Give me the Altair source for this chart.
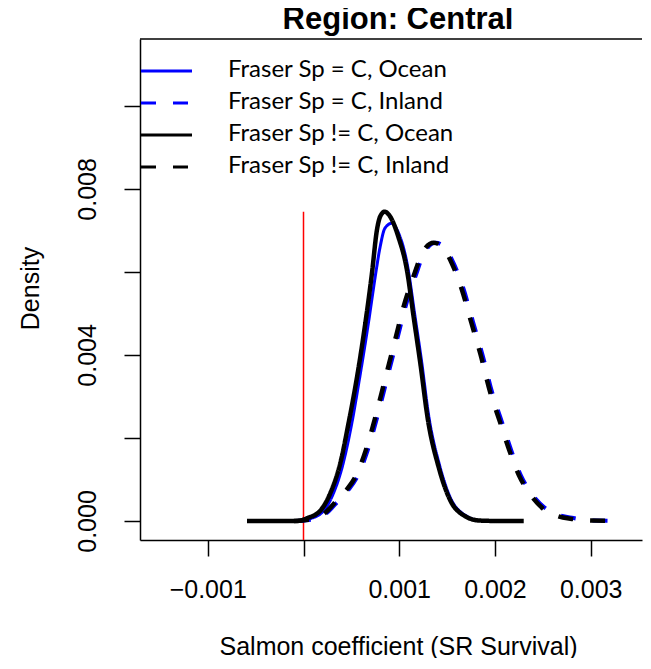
import altair as alt
import pandas as pd

labels = ["Fraser Sp = C, Ocean", "Fraser Sp = C, Inland",
          "Fraser Sp != C, Ocean", "Fraser Sp != C, Inland"]
colors = ["#0000ff", "#0000ff", "#000000", "#000000"]
dashes = [[1, 0], [15, 17], [1, 0], [15, 17]]
title_text = ["Region: Central"]

# Fraser Sp = C, Ocean (blue solid)
c_ocean_x = [-0.00058, -0.0003, -0.00005, 0.00006, 0.0002, 0.0003, 0.00041, 0.0005, 0.00059,
             0.00068, 0.00075, 0.0008, 0.00085, 0.00092, 0.00099, 0.00109, 0.00116, 0.00123,
             0.00131, 0.00142, 0.00154, 0.00168, 0.00185, 0.00205, 0.00225]
c_ocean_y = [0, 0, 0, 0.00005, 0.00022, 0.0006, 0.00135, 0.0023, 0.0035, 0.0048, 0.0059, 0.0066,
             0.00705, 0.00717, 0.00695, 0.0061, 0.005, 0.0039, 0.0025, 0.00135, 0.00053, 0.00015,
             0.00001, 0, 0]

# Fraser Sp = C, Inland (blue dashed)
c_inland_x = [-0.00008, 0.00012, 0.00022, 0.00037, 0.00047, 0.00057, 0.00067, 0.00077, 0.00087,
              0.00097, 0.00107, 0.00117, 0.00127, 0.00138, 0.00147, 0.00157, 0.00167, 0.00177,
              0.00187, 0.00197, 0.00207, 0.00217, 0.00227, 0.00237, 0.00252, 0.00267, 0.00282,
              0.00302, 0.00332]
c_inland_y = [0, 0.00005, 0.00015, 0.0005, 0.00075, 0.0011, 0.0017, 0.0025, 0.0034, 0.0043,
              0.0052, 0.0059, 0.0065, 0.0067, 0.0066, 0.0062, 0.0056, 0.0048, 0.004, 0.0031,
              0.0024, 0.0017, 0.0011, 0.0007, 0.00032, 0.00014, 0.00007, 0.00001, 0]

# Fraser Sp != C, Ocean (black solid)
nc_ocean_x = [-0.00059, -0.0003, -0.00007, 0.00004, 0.00018, 0.00028, 0.000385, 0.00047, 0.00056,
              0.000646, 0.000715, 0.000767, 0.0008, 0.000847, 0.000906, 0.00099, 0.00108, 0.00115,
              0.00122, 0.0013, 0.00141, 0.00153, 0.00167, 0.00184, 0.00205, 0.0023]
nc_ocean_y = [0, 0, 0, 0.00007, 0.00026, 0.00067, 0.0014, 0.00235, 0.00348, 0.00477, 0.00597,
              0.00701, 0.00733, 0.00745, 0.00733, 0.00685, 0.00605, 0.00492, 0.0038, 0.00243,
              0.00131, 0.00051, 0.00014, 0.00001, 0, 0]

# Fraser Sp != C, Inland (black dashed)
nc_inland_x = [-0.0001, 0.0001, 0.0002, 0.00035, 0.00045, 0.00055, 0.00065, 0.00075, 0.00085,
               0.00095, 0.00105, 0.00115, 0.00125, 0.00136, 0.00145, 0.00155, 0.00165, 0.00175,
               0.00185, 0.00195, 0.00205, 0.00215, 0.00225, 0.00235, 0.0025, 0.00265, 0.0028,
               0.003, 0.00332]
nc_inland_y = [0, 0.00005, 0.00015, 0.0005, 0.00075, 0.0011, 0.0017, 0.0025, 0.0034, 0.0043,
               0.0052, 0.0059, 0.0065, 0.0067, 0.0066, 0.0062, 0.0056, 0.0048, 0.004, 0.0031,
               0.0024, 0.0017, 0.0011, 0.0007, 0.0003, 0.00012, 0.00005, 0.00001, 0]

x_ticks = [-0.001, 0, 0.001, 0.002, 0.003]
y_ticks = [0, 0.002, 0.004, 0.006, 0.008, 0.010]
ref_x = [0.0]
ref_top = [0.00745]

series = [(labels[0], c_ocean_x, c_ocean_y, 3),
          (labels[1], c_inland_x, c_inland_y, 4),
          (labels[2], nc_ocean_x, nc_ocean_y, 4.5),
          (labels[3], nc_inland_x, nc_inland_y, 4.5)]

W, H = 502, 501
xdom = [-0.0017076, 0.0035353]
ydom = [-0.000458, 0.01161]

xscale = alt.Scale(domain=xdom, nice=False, zero=False)
yscale = alt.Scale(domain=ydom, nice=False, zero=False)
cscale = alt.Scale(domain=labels, range=colors)
dscale = alt.Scale(domain=labels, range=dashes)

xaxis = alt.Axis(orient="bottom", values=x_ticks,
                 labelExpr="datum.value == 0 ? '' : format(datum.value, '.3f')",
                 title="Salmon coefficient (SR Survival)", grid=False,
                 tickSize=16, labelPadding=41, labelBaseline="alphabetic",
                 titleX=258, titleY=114, titleBaseline="alphabetic", titleAnchor="middle",
                 titleAlign="center")
yaxis = alt.Axis(orient="left", values=y_ticks,
                 labelExpr="(datum.value == 0 || abs(datum.value - 0.004) < 1e-9 || abs(datum.value - 0.008) < 1e-9) ? format(datum.value, '.3f') : ''",
                 title="Density", grid=False, tickSize=16, labelAngle=-90, labelAlign="center",
                 labelBaseline="alphabetic", labelPadding=29,
                 titleAngle=-90, titleX=-102, titleY=249, titleBaseline="alphabetic",
                 titleAlign="center")

ref = alt.Chart(pd.DataFrame({"x": ref_x, "y": ref_top})).mark_rule(
    color="#ff0000", strokeWidth=1.5).encode(
    x=alt.X("x:Q", scale=xscale, axis=xaxis),
    y=alt.Y("y:Q", scale=yscale, axis=yaxis),
    y2=alt.value(H))

layers = []
for lab, xs, ys, sw in series:
    df = pd.DataFrame({"x": xs, "y": ys, "series": lab, "o": range(len(xs))})
    layers.append(alt.Chart(df).mark_line(strokeWidth=sw, interpolate="monotone",
                                          strokeCap="butt").encode(
        x=alt.X("x:Q", scale=xscale),
        y=alt.Y("y:Q", scale=yscale),
        order="o:Q",
        color=alt.Color("series:N", scale=cscale, legend=None),
        strokeDash=alt.StrokeDash("series:N", scale=dscale, legend=None),
    ))

curves = alt.layer(ref, *layers)

# manual legend (own point scale for rows)
leg_df = pd.DataFrame({"series": labels})
leg_y = alt.Y("series:N", scale=alt.Scale(type="point", domain=labels, range=[32, 128], padding=0),
              axis=None)
leg_lines = alt.Chart(leg_df).mark_rule(strokeWidth=3, strokeCap="butt").encode(
    x=alt.value(1), x2=alt.value(52), y=leg_y,
    color=alt.Color("series:N", scale=cscale, legend=None),
    strokeDash=alt.StrokeDash("series:N", scale=dscale, legend=None))
leg_text = alt.Chart(leg_df).mark_text(font="Lato", fontSize=24, color="black", align="left",
                                       baseline="middle", dy=-1).encode(
    x=alt.value(88), y=leg_y, text="series:N")
legend = alt.layer(leg_lines, leg_text)

# top border of the plot box (drawn as a thin rect)
top = alt.Chart(pd.DataFrame({"a": [0]})).mark_rect(color="black").encode(
    x=alt.value(0), x2=alt.value(W), y=alt.value(-0.75), y2=alt.value(0.75))

title = alt.Chart(pd.DataFrame({"t": title_text})).mark_text(
    font="Liberation Sans", fontSize=31, fontWeight="bold", color="black",
    align="center", baseline="alphabetic").encode(
    text="t:N", x=alt.value(258), y=alt.value(-10))

# plot continues past the right edge of the picture: no right border
cover = alt.Chart(pd.DataFrame({"a": [0]})).mark_rect(color="white").encode(
    x=alt.value(W - 2), x2=alt.value(W + 6), y=alt.value(1), y2=alt.value(H - 1))

chart = alt.layer(curves, legend, top, title, cover).resolve_scale(y="independent").properties(
    width=W, height=H,
    autosize=alt.AutoSizeParams(type="none"),
    padding={"left": 132, "top": 31, "right": 1, "bottom": 118},
).configure_view(stroke="transparent", strokeWidth=0).configure_axis(
    labelFont="Liberation Sans", titleFont="Liberation Sans", labelFontSize=25,
    titleFontSize=25, labelColor="black", titleColor="black", titleFontWeight="normal",
    domainColor="black", tickColor="black", domainWidth=1.5, tickWidth=1.5, zindex=0
).configure_axisRight(domain=False, ticks=False, labels=False)

chart.save("out.html", embed_options={"renderer": "svg", "actions": False})
